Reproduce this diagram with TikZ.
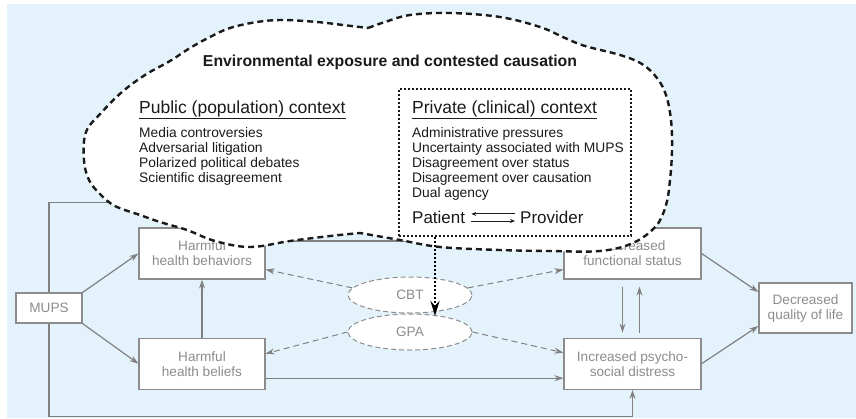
\documentclass[tikz,border=0pt]{standalone}
\usepackage{fontspec}
\setmainfont{Liberation Sans}
\usepackage{tikz}
\usetikzlibrary{shapes.geometric,arrows.meta,positioning}
\definecolor{mupsSky}{HTML}{E4F3FB}
\definecolor{mupsGrey}{HTML}{8C8C8C}
\definecolor{mupsArrow}{HTML}{808080}
\definecolor{mupsInk}{HTML}{1A1A1A}

\begin{document}
\begin{tikzpicture}[
  x=1pt, y=-1pt,
  font=\fontsize{13.6}{15}\selectfont,
  every node/.style={align=center},
  grbox/.style ={rectangle,draw=mupsGrey,line width=1.2pt,fill=white,text=mupsGrey,inner sep=2pt},
  ovalbox/.style ={ellipse,draw=mupsGrey,line width=1pt,dash pattern=on 5pt off 3pt,fill=white,text=mupsGrey,
                   minimum width=124pt,minimum height=36pt,inner sep=0pt},
  dotbox/.style ={rectangle,draw=mupsInk,line width=2pt,dash pattern=on 2pt off 2pt,minimum width=232pt,minimum height=147pt},
  cloudline/.style ={draw=mupsInk,line width=2.4pt,dash pattern=on 6pt off 4pt,fill=white},
  head/.style ={anchor=base west,inner sep=0pt,font=\fontsize{17.5}{20}\selectfont,text=mupsInk},
  item/.style ={anchor=base west,inner sep=0pt,font=\fontsize{13.8}{15}\selectfont,text=mupsInk},
  arrg/.style ={-{Stealth[length=9pt,width=6pt]},draw=mupsArrow,line width=1.2pt},
  arrd/.style ={arrg,dash pattern=on 6pt off 4pt,line width=1pt},
  arrk/.style ={-{Stealth[length=15pt,width=9pt]},draw=black,line width=2.2pt,dash pattern=on 2pt off 2pt},
  arrp/.style ={-{Stealth[length=5pt,width=4pt]},draw=mupsInk,line width=0.9pt}
]
\useasboundingbox (0,0) rectangle (856,418);
\fill[mupsSky] (7,4) rectangle (856,418);

% pathway boxes
\node[grbox,minimum width=66pt,minimum height=30pt] (mups) at (49,308) {MUPS};
\node[grbox,minimum width=126pt,minimum height=51pt] (behav) at (202,253.5) {Harmful\\health behaviors};
\node[grbox,minimum width=126pt,minimum height=51pt,below=58pt of behav] (belief) {Harmful\\health beliefs};
\node[grbox,minimum width=137pt,minimum height=51pt] (funct) at (632.5,253.5) {Decreased\\functional status};
\node[grbox,minimum width=137pt,minimum height=51pt,below=58pt of funct] (distress) {Increased psycho-\\social distress};
\node[grbox,minimum width=93pt,minimum height=50pt] (qol) at (805.5,308) {Decreased\\quality of life};

% solid links
\draw[arrg] (mups.north east) -- (behav.west);
\draw[arrg] (mups.south east) -- (belief.west);
\draw[arrg] (belief) -- (behav);
\draw[arrg] ([yshift=12.5pt]behav.east) -- ([yshift=12.5pt]funct.west);
\draw[arrg] ([yshift=-14.5pt]belief.east) -- ([yshift=-14.5pt]distress.west);
\draw[arrg] (mups.north) -- ++(0,-90) -| (funct.north);
\draw[arrg] (mups.south) -- ++(0,93) -| (distress.south);
\draw[arrg] ([xshift=-10pt,yshift=-7pt]funct.south) -- ([xshift=-10pt,yshift=5pt]distress.north);
\draw[arrg] ([xshift=7pt,yshift=5pt]distress.north) -- ([xshift=7pt,yshift=-7pt]funct.south);
\draw[arrg] (funct.east) -- ([yshift=16pt]qol.west);
\draw[arrg] (distress.east) -- ([yshift=-18pt]qol.west);

% exposure cloud
\draw[cloudline]
  plot[smooth,tension=0.6] coordinates {(368,28) (385,22) (410,15) (450,13) (500,17) (540,27) (565,38)
    (585,46) (620,55) (642,64) (657,78) (666,95) (671,120) (672,150) (670,180) (666,205) (656,226)
    (633,243) (600,251) (550,251) (500,250) (440,247) (400,240) (360,233)}
  -- plot[smooth,tension=0.6] coordinates {(360,233) (330,236) (290,241) (250,247) (215,241) (187,230)
    (160,222) (140,215) (115,206) (100,194) (89,180) (84,160) (86,132) (102,112) (122,92) (145,75)
    (170,61) (190,48) (210,37) (230,28) (257,22) (283,20) (317,22) (343,25) (368,28)}
  -- cycle;

\node[font=\fontsize{15.8}{18}\selectfont\bfseries,text=mupsInk,anchor=base] (title) at (390,66)
  {Environmental exposure and contested causation};

% public context
\node[head] (pubhd) at (139,113.3) {Public (population) context};
\draw[mupsInk,line width=1.2pt] ([yshift=-1pt]pubhd.south west) -- ([yshift=-1pt]pubhd.south east);
\foreach \txt [count=\i] in {Media controversies,Adversarial litigation,Polarized political debates,Scientific disagreement}
  \node[item] (pub\i) at (139,122+15*\i) {\txt};

% private context
\node[dotbox] (privbox) at (515,162.5) {};
\node[head] (privhd) at (412,113.3) {Private (clinical) context};
\draw[mupsInk,line width=1.2pt] ([yshift=-1pt]privhd.south west) -- ([yshift=-1pt]privhd.south east);
\foreach \txt [count=\i] in {Administrative pressures,Uncertainty associated with MUPS,Disagreement over status,
    Disagreement over causation,Dual agency}
  \node[item] (priv\i) at (412,122+15*\i) {\txt};
\node[item,font=\fontsize{17}{20}\selectfont] (pat) at (412,223.3) {Patient};
\node[item,font=\fontsize{17}{20}\selectfont] (prov) at (520,223.3) {Provider};
\draw[arrp,shorten <=5pt,shorten >=6pt] ([yshift=3.3pt]prov.west) -- ([yshift=3.3pt]pat.east);
\draw[arrp,shorten <=6pt,shorten >=5pt] ([yshift=-3.8pt]pat.east) -- ([yshift=-3.8pt]prov.west);

% treatments
\node[ovalbox] (cbt) at (410,295) {CBT};
\node[ovalbox] (gpa) at (410,332) {GPA};
\draw[arrd] (cbt.173) -- ([yshift=-16pt]behav.east);
\draw[arrd] (cbt.7) -- ([yshift=-16pt]funct.west);
\draw[arrd] (gpa.west) -- ([yshift=10pt]belief.east);
\draw[arrd] (gpa.east) -- ([yshift=11pt]distress.west);

\coordinate (hit) at (435,316);
\draw[arrk] (privbox.south -| hit) -- (hit);
\end{tikzpicture}
\end{document}
